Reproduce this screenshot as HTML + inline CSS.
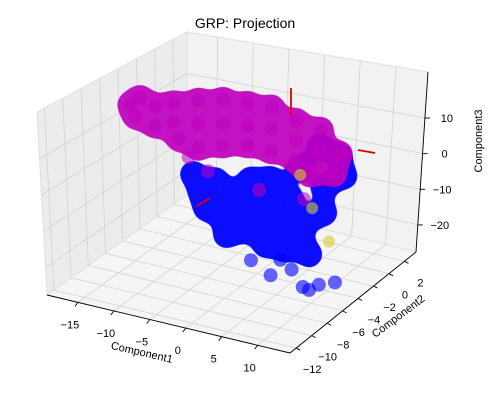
<!DOCTYPE html>
<html><head><meta charset="utf-8"><style>
html,body{margin:0;padding:0;background:#fff;}
svg{display:block;font-family:"Liberation Sans","DejaVu Sans",sans-serif;}
</style></head><body>
<svg id="chart" width="499" height="401" viewBox="0 0 499 401" xmlns="http://www.w3.org/2000/svg">
<defs>
<filter id="goo" x="-20%" y="-20%" width="140%" height="140%">
<feGaussianBlur in="SourceGraphic" stdDeviation="6" result="b"/>
<feColorMatrix in="b" type="matrix" values="1 0 0 0 0  0 1 0 0 0  0 0 1 0 0  0 0 0 18 -7"/>
</filter>
</defs>
<text x="245" y="28" text-anchor="middle" font-size="14" fill="#000">GRP: Projection</text>
<g id="panes"></g><g id="grid"></g><g id="axes"></g>
<g id="blueCore" filter="url(#goo)" opacity="0.95"></g>
<g id="magCore" filter="url(#goo)" opacity="0.92"></g>
<g id="marks"></g><g id="labels"></g>
</svg>
<script>
// ---- data ----
const xTicks=[-15,-10,-5,0,5,10];
const yTicks=[-12,-10,-8,-6,-4,-2,0,2];
const zTicks=[-20,-10,0,10];
const xRange=[-19.3,14.5], yRange=[-12.8,3.5], zRange=[-27.6,22.9];
const magentaX=[-24.7,-23.3,-24.0,-21.2,-21.2,-18.5,-18.5,-17.8,-15.0,-15.0,-15.0,-11.5,-11.5,-11.5,-8.0,-8.0,-8.0,-4.6,-4.6,-4.6,-1.1,-1.1,-1.1,2.4,2.4,2.4,5.2,4.5,1.0,-16.4,-13.6,-6.2,0.3];
const magentaY=magentaX.map(()=>1.4);
const magentaZ=[1.6,4.2,-1.8,2.4,-3.3,4.6,-1.1,-5.8,6.9,-0.2,-7.3,8.6,1.5,-5.0,8.8,2.3,-3.4,9.1,2.9,-3.7,6.6,0.9,-4.8,5.4,-0.3,-6.0,-0.3,-6.4,-8.0,-10.8,-13.7,-15.8,-15.5];
const blueX=[-8.2,-7.1,-6.4,-5.0,-4.0,-2.2,-0.1,-0.1,2.7,2.7,2.0,4.8,5.5,6.9,9.6,12.4,13.1,10.3,8.2,6.9,4.1,2.7,-0.1,-1.5,0.6,8.2,9.6,11.9,7.3,5.7,-3.6,-5.0,10.3,4.1,8.2,2.0,-2.0];
const blueY=blueX.map(()=>-4.65);
const blueZ=[-1.9,-6.7,-10.9,-8.0,-11.8,-5.2,0.0,-8.5,1.4,-8.5,-17.4,-17.4,-2.9,6.3,13.3,11.8,6.5,2.3,-7.2,-13.6,-20.6,-25.6,-22.7,-14.8,-13.8,-27.1,-25.0,-23.3,-26.7,-22.6,-17.2,-2.3,-4.8,-12.1,-17.2,-3.2,-9.0];
const blueCore=[0,1,2,3,4,5,6,7,8,9,10,11,12,13,14,15,16,17,18,19,23,24,30,31,32,33,34,35,36];
const magentaCore=[0,1,2,3,4,5,6,7,8,9,10,11,12,13,14,15,16,17,18,19,20,21,22,23,24,25,26,27,28];
const yellowX=[6.9,11.0,8.6];
const yellowY=[-4.65,-4.65,-4.65];
const yellowZ=[4.3,-12.4,-4.2];
// ---- projection (trilinear between box corners) ----
const C={c000:[47,295],c100:[290,353],c010:[187,195],c110:[416,252],c001:[37,112],c101:[282,165],c011:[187,32],c111:[428,72]};
function lerp(a,b,t){return [a[0]+(b[0]-a[0])*t,a[1]+(b[1]-a[1])*t];}
function P(x,y,z){
 const fx=(x-xRange[0])/(xRange[1]-xRange[0]),fy=(y-yRange[0])/(yRange[1]-yRange[0]),fz=(z-zRange[0])/(zRange[1]-zRange[0]);
 const a=lerp(lerp(C.c000,C.c100,fx),lerp(C.c010,C.c110,fx),fy);
 const b=lerp(lerp(C.c001,C.c101,fx),lerp(C.c011,C.c111,fx),fy);
 return lerp(a,b,fz);
}
const NS="http://www.w3.org/2000/svg";
function mk(tag,parent,attrs){const e=document.createElementNS(NS,tag);for(const k in attrs)e.setAttribute(k,attrs[k]);document.getElementById(parent).appendChild(e);return e;}
function pts(a){return a.map(p=>p.join(',')).join(' ');}
let e;
e=mk('polygon','panes',{points:pts([C.c000,C.c010,C.c011,C.c001]),fill:'#ececec',stroke:'#e0e0e0'});


e=mk('polygon','panes',{points:pts([C.c010,C.c110,C.c111,C.c011]),fill:'#f2f2f2',stroke:'#e0e0e0'});


e=mk('polygon','panes',{points:pts([C.c000,C.c100,C.c110,C.c010]),fill:'#f5f5f5',stroke:'#e0e0e0'});


function gl(p,q,name){const l=mk('line','grid',{x1:p[0],y1:p[1],x2:q[0],y2:q[1],stroke:'#d3d3d3','stroke-width':0.8});

}
const [x0,x1]=xRange,[y0,y1]=yRange,[z0,z1]=zRange;
xTicks.forEach(v=>{gl(P(v,y0,z0),P(v,y1,z0),'x-gridline');gl(P(v,y1,z0),P(v,y1,z1),'x-gridline');});
yTicks.forEach(v=>{gl(P(x0,v,z0),P(x1,v,z0),'y-gridline');gl(P(x0,v,z0),P(x0,v,z1),'y-gridline');});
zTicks.forEach(v=>{gl(P(x0,y0,v),P(x0,y1,v),'z-gridline');gl(P(x0,y1,v),P(x1,y1,v),'z-gridline');});
function al(p,q,name){const l=mk('line','axes',{x1:p[0],y1:p[1],x2:q[0],y2:q[1],stroke:'#000','stroke-width':0.9});

}
al(C.c000,C.c100,'x-axis');al(C.c100,C.c110,'y-axis');al(C.c110,C.c111,'z-axis');
function tx(x,y,s,name,extra){const t=mk('text','labels',Object.assign({x:x,y:y,'font-size':11,'text-anchor':'middle',fill:'#000'},extra||{}));t.textContent=s;

return t;}
xTicks.forEach(v=>{const p=P(v,y0,z0);al(p,[p[0]-3,p[1]+4],'x-tick');tx(p[0]-8,p[1]+26,String(v).replace('-','\u2212'),'x-tick-label');});
yTicks.forEach(v=>{const p=P(x1,v,z0);al(p,[p[0]+4,p[1]+2],'y-tick');tx(p[0]+16,p[1]+25,String(v).replace('-','\u2212'),'y-tick-label');});
zTicks.forEach(v=>{const p=P(x1,y1,v);al(p,[p[0]+5,p[1]],'z-tick');tx(p[0]+22,p[1]+4,String(v).replace('-','\u2212'),'z-tick-label');});
tx(142,356,'Component1','x-axis-title',{transform:'rotate(13 142 352)'});
tx(398,320,'Component2','y-axis-title',{transform:'rotate(-37 398 316)'});
tx(482,149,'Component3','z-axis-title',{transform:'rotate(-90 478 145)'});
function dot(g,x,y,z,r,fill,op,name){const p=P(x,y,z);const c=mk('circle',g,{cx:p[0],cy:p[1],r:r,fill:fill,'fill-opacity':op});

}
blueCore.forEach(i=>dot('blueCore',blueX[i],blueY[i],blueZ[i],13,'#0000ff',1,'blue-core-point'));
magentaCore.forEach(i=>dot('magCore',magentaX[i],magentaY[i],magentaZ[i],13,'#bf00bf',1,'magenta-core-point'));
blueX.forEach((v,i)=>{if(!blueCore.includes(i))dot('marks',v,blueY[i],blueZ[i],7,'#0000ff',0.6,'blue-point');});
magentaX.forEach((v,i)=>dot('marks',v,magentaY[i],magentaZ[i],7,'#bf00bf',0.55,'magenta-point'));
yellowX.forEach((v,i)=>dot('marks',v,yellowY[i],yellowZ[i],6,'#d0d030',0.6,'yellow-point'));
[[291,88,291,115],[358,150,375,153],[197,206,210,198]].forEach(s=>{const l=mk('line','marks',{x1:s[0],y1:s[1],x2:s[2],y2:s[3],stroke:'#e00000','stroke-width':1.8});

});
</script>
</body></html>
